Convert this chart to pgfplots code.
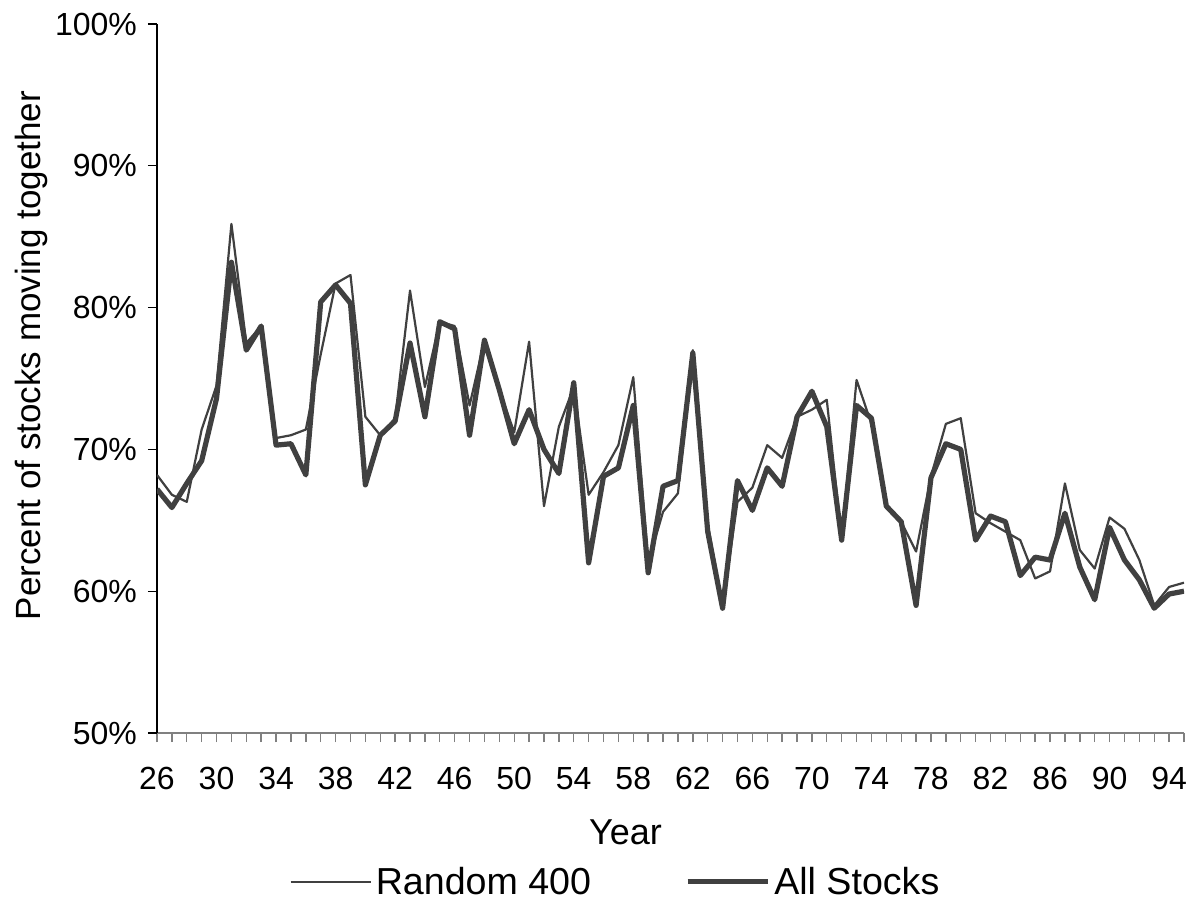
\documentclass[border=0pt]{standalone}
\usepackage{fontspec}
\setmainfont{Liberation Sans}
\usepackage{pgfplots}
\pgfplotsset{compat=1.18}
\definecolor{series}{HTML}{404040}
\definecolor{xaxis}{HTML}{808080}

\begin{document}
\begin{tikzpicture}
\begin{axis}[
    scale only axis,
    width=513.5pt, height=354.5pt,
    font=\fontsize{16}{19}\selectfont,
    /pgf/number format/assume math mode=true,
    xmin=26, xmax=95, ymin=50, ymax=100,
    axis x line*=bottom, axis y line*=left,
    x axis line style={-, xaxis, line width=0.9pt},
    y axis line style={-, black, line width=0.8pt},
    xtick={26,30,...,94},
    minor xtick={26,...,95},
    ytick={50,60,...,100},
    yticklabel={\pgfmathprintnumber{\tick}\%},
    tick align=outside,
    major tick length=4.5pt, minor tick length=4.5pt,
    xtick style={xaxis, line width=0.7pt},
    ytick style={black, line width=0.7pt},
    xticklabel style={yshift=-9pt},
    yticklabel style={xshift=-2pt},
    xlabel={Year},
    ylabel={Percent of stocks moving together},
    xlabel style={at={(axis description cs:0.5,0)}, anchor=north,
        xshift=-22.5pt, yshift=-40pt, font=\fontsize{18}{21}\selectfont},
    ylabel style={yshift=-3pt, xshift=11.5pt, font=\fontsize{17.5}{21}\selectfont},
    legend columns=2,
    legend style={at={(0.5,-0.21)}, anchor=center, xshift=-27pt,
        draw=none, fill=none,
        font=\fontsize{18.8}{22}\selectfont,
        /tikz/every even column/.append style={column sep=45pt}},
    legend image code/.code={\draw[#1] (0pt,0pt) -- (40pt,0pt);},
]
% Random 400
\addplot[color=series, line width=1.1pt, line join=round] coordinates {
  (26,68.2) (27,66.8) (28,66.3) (29,71.4) (30,74.5) (31,85.9) (32,77.5)
  (33,78.7) (34,70.8) (35,71.0) (36,71.4) (37,76.7) (38,81.7) (39,82.3)
  (40,72.3) (41,71.0) (42,72.2) (43,81.2) (44,74.4) (45,79.0) (46,78.7)
  (47,73.1) (48,77.7) (49,74.2) (50,71.2) (51,77.6) (52,66.0) (53,71.6)
  (54,74.4) (55,66.8) (56,68.4) (57,70.3) (58,75.1) (59,62.0) (60,65.6)
  (61,66.9) (62,77.0) (63,64.8) (64,58.9) (65,66.3) (66,67.3) (67,70.3)
  (68,69.4) (69,72.3) (70,72.8) (71,73.5) (72,63.7) (73,74.9) (74,71.8)
  (75,66.0) (76,64.9) (77,62.8) (78,68.1) (79,71.8) (80,72.2) (81,65.5)
  (82,64.8) (83,64.2) (84,63.6) (85,60.9) (86,61.4) (87,67.6) (88,62.9)
  (89,61.6) (90,65.2) (91,64.4) (92,62.2) (93,59.0) (94,60.3) (95,60.6)
};
\addlegendentry{Random 400}
% All Stocks
\addplot[color=series, line width=2.6pt, line join=round] coordinates {
  (26,67.2) (27,65.9) (28,67.6) (29,69.2) (30,73.6) (31,83.2) (32,77.0)
  (33,78.7) (34,70.3) (35,70.4) (36,68.2) (37,80.4) (38,81.6) (39,80.3)
  (40,67.5) (41,71.0) (42,72.0) (43,77.5) (44,72.3) (45,79.0) (46,78.5)
  (47,71.0) (48,77.7) (49,74.2) (50,70.4) (51,72.8) (52,70.0) (53,68.3)
  (54,74.7) (55,62.0) (56,68.1) (57,68.7) (58,73.1) (59,61.3) (60,67.4)
  (61,67.8) (62,76.8) (63,64.2) (64,58.8) (65,67.8) (66,65.7) (67,68.7)
  (68,67.4) (69,72.3) (70,74.1) (71,71.6) (72,63.6) (73,73.1) (74,72.2)
  (75,66.0) (76,64.9) (77,59.0) (78,68.0) (79,70.4) (80,70.0) (81,63.6)
  (82,65.3) (83,64.9) (84,61.1) (85,62.4) (86,62.2) (87,65.5) (88,61.7)
  (89,59.4) (90,64.5) (91,62.2) (92,60.8) (93,58.8) (94,59.8) (95,60.0)
};
\addlegendentry{All Stocks}
\end{axis}
\pgfresetboundingbox
\path (current axis.south west) ++(-78.5pt,-84pt) rectangle ++(597.5pt,450.5pt);
\end{tikzpicture}
\end{document}
